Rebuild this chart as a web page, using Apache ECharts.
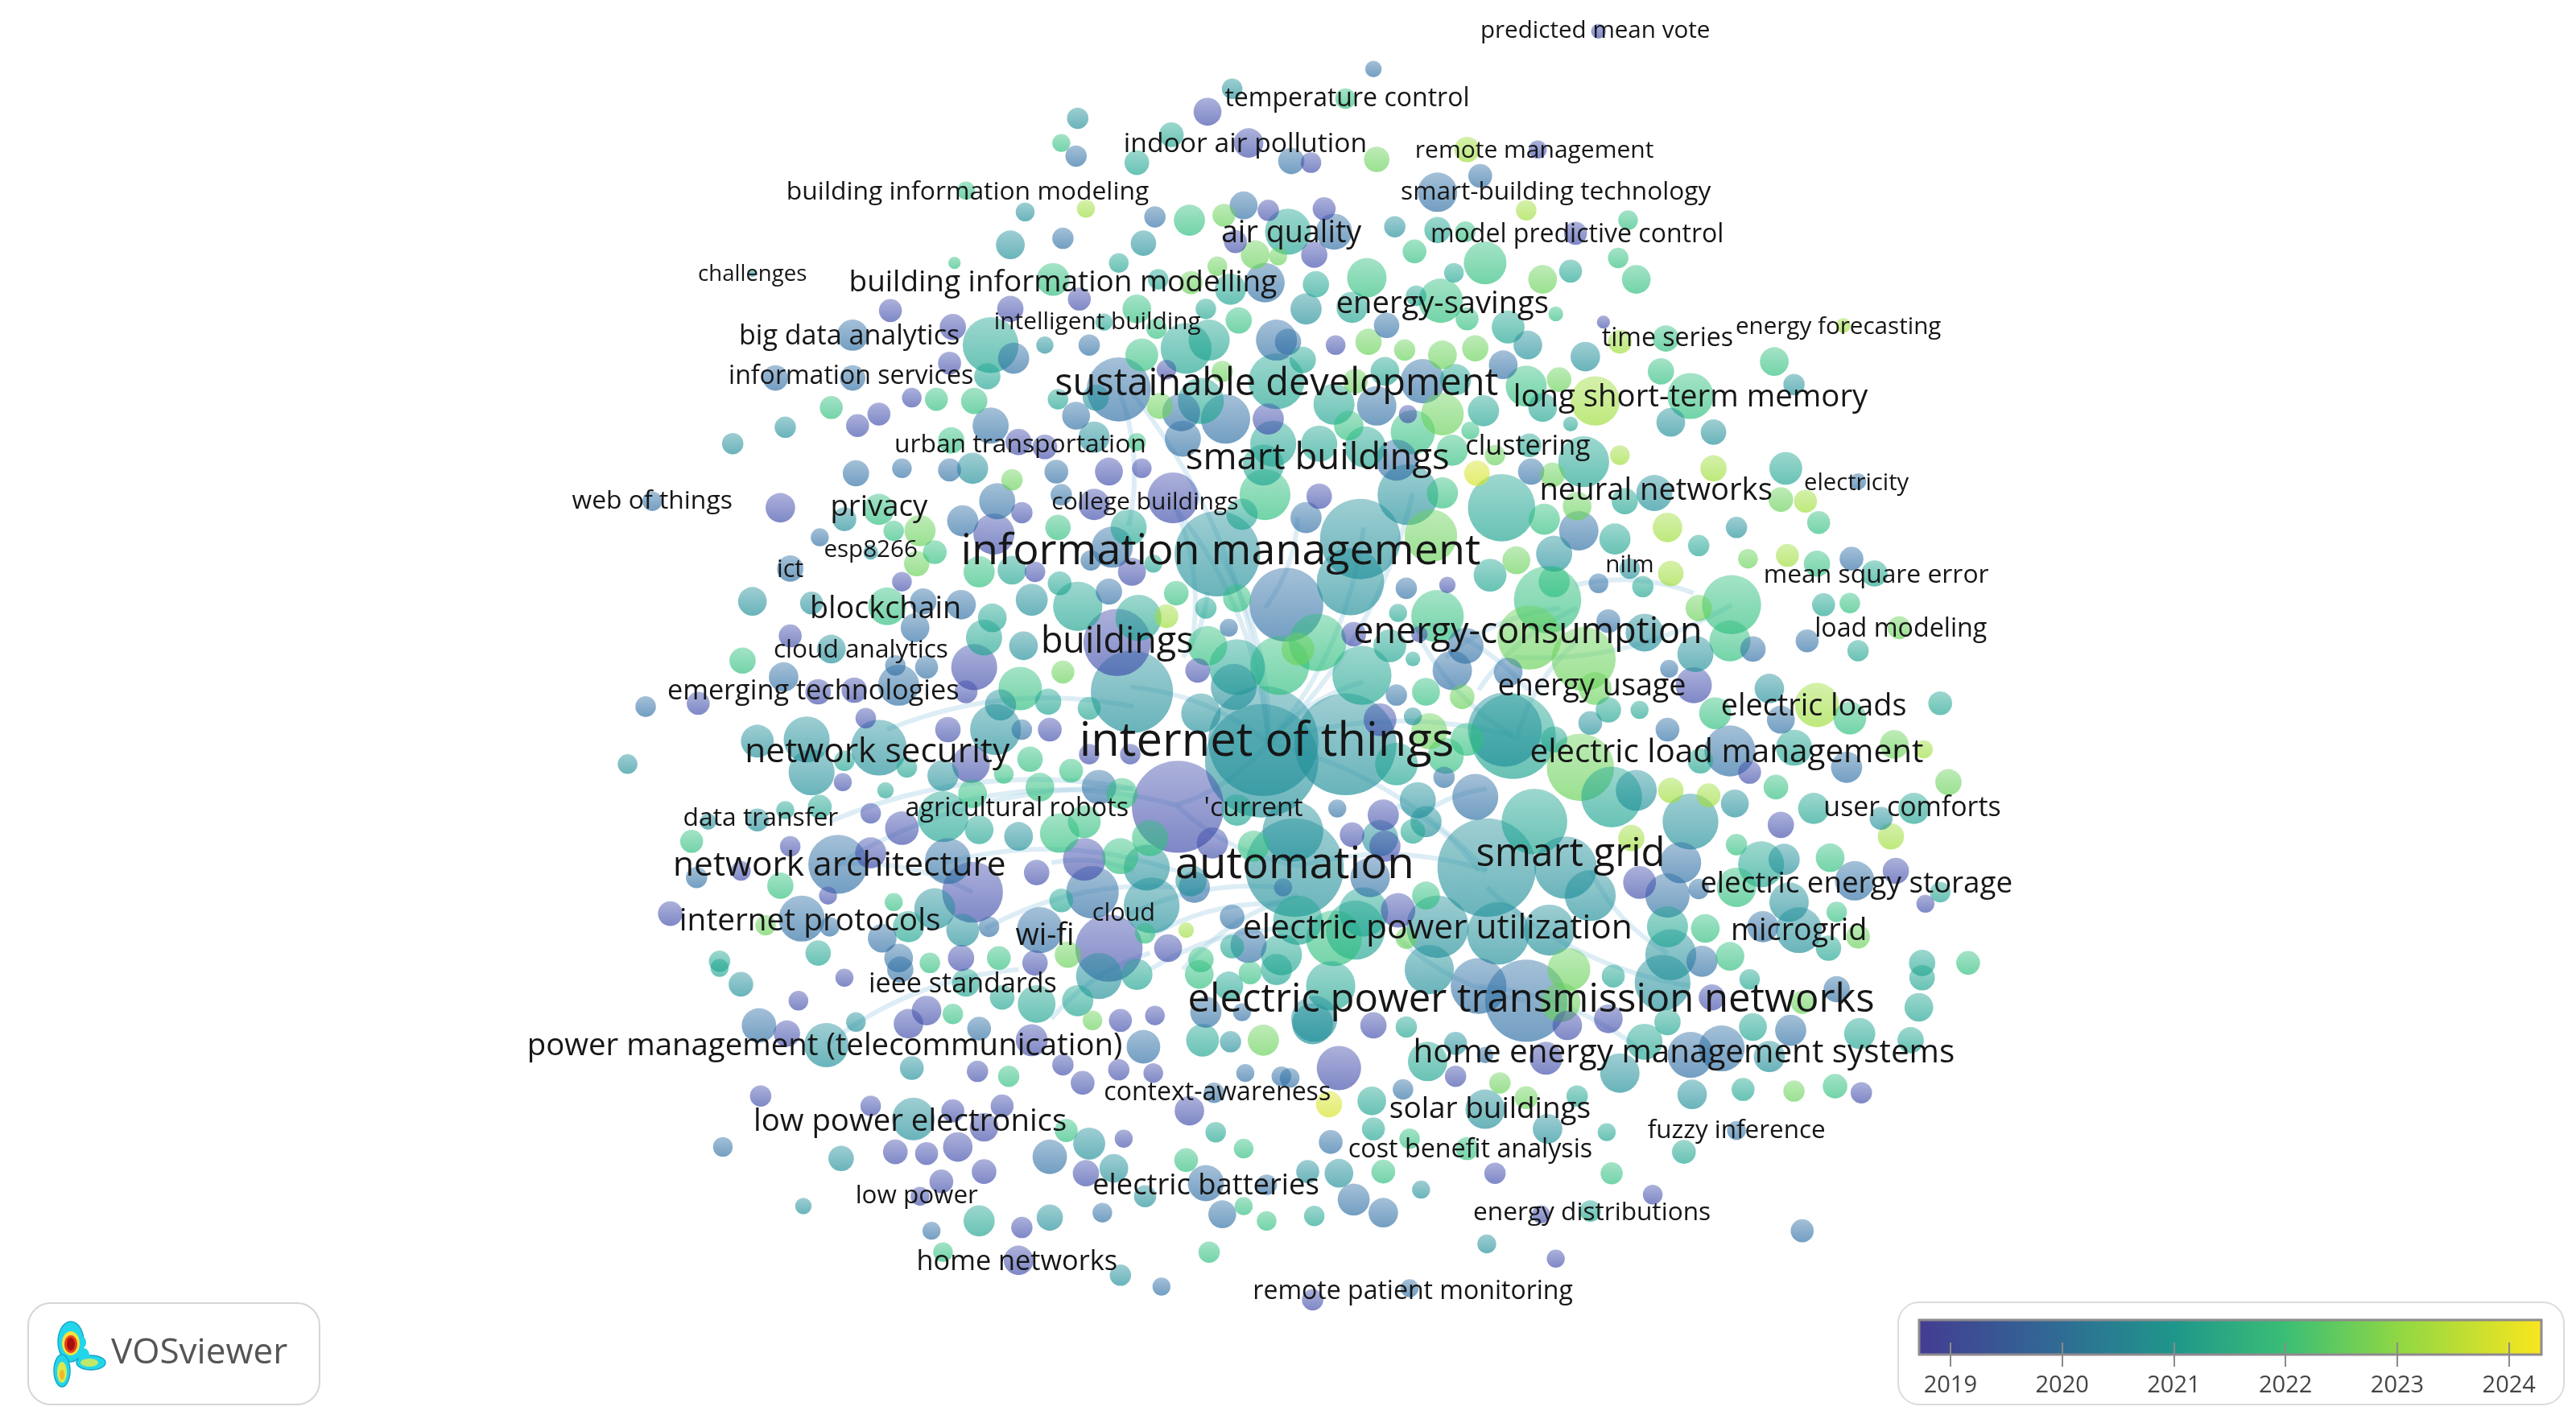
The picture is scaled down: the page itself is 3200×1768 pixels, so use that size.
<!DOCTYPE html>
<html>
<head>
<meta charset="utf-8">
<title>VOSviewer overlay map</title>
<style>html,body{margin:0;padding:0;background:#fff}#main{width:3200px;height:1768px}</style>
<script src="https://cdn.jsdelivr.net/npm/echarts@6/dist/echarts.min.js"></script>
</head>
<body>
<div id="main"></div>
<script>
// map units, each row is [x, y, weight], grouped by average publication year
var nodes2019 = [[735,68,17],[760,87,18],[772,128,13],[752,147,14],[657,182,14],[615,188,16],[542,189,14],[580,199,16],[578,221,14],[710,225,12],[555,242,12],[535,252,14],[522,259,14],[620,269,16],[636,272,15],[675,287,17],[695,285,12],[772,255,19],[973,19,9],[798,99,12.5],[936,91,11],[806,127,14],[959,142,14],[800,155,16],[813,210,12],[976,196,8],[857,252,11],
[475,309,18],[622,312,13],[605,325,25],[666,307,19],[714,303,31],[630,348,12.5],[689,348,17],[549,354,12],[481,387,14],[593,406,28],[498,421,15.5],[520,420,15.5],[729,408,15],[588,421,14],[425,428,14],[527,437,12.5],[577,444,15.5],[639,444,14.5],[591,465,23],[663,459,12.5],[688,459,12.5],[513,476,11],[717,491,56],[549,504,20.5],[530,495,12.5],[481,515,12.5],[451,530,12],[530,519,19],[592,543,37],[660,523,26],[631,531,15.5],[738,513,19],[504,545,11],[408,556,15],[675,577,41],[711,577,17],[585,583,16],[630,586,15.5],[680,391,41],[840,438,20],
[803,302,15.5],[881,356,10],[824,386,15],[864,386,10],[1031,417,22],[1065,470,14],[1084,502,16],[1154,530,16],[1172,550,11],[998,537,20],[851,554,21],[843,515,19],[823,508,15],[842,496,19],
[514,595,11],[486,609,12],[479,629,16],[564,615,18],[553,623,18],[628,633,19.5],[682,621,14],[703,618,12],[595,652,13],[659,659,14.5],[702,653,12],[647,648,13],[681,651,13],[463,667,13],[530,673,12.5],[580,676,14],[610,673,14],[599,686,17.5],[684,693,11],[724,676,18],[545,701,15],[564,702,14],[583,698,18],[599,713,15],[573,719,14.5],[661,714,16],[622,747,13],[620,767,18],[560,728,11.5],
[954,624,18],[979,620,17.5],[1042,607,16],[941,644,20],[836,624,16],[886,655,13],[815,650,27],[1133,665,13],[910,714,13],[1006,727,12],[947,766,11],[799,791,13],[938,739,11]];

var nodes2020 = [[655,95,13],[647,145,13],[703,132,13],[757,125,17],[812,141,22],[770,172,24],[519,204,19],[617,218,19],[663,210,13],[777,207,25],[472,230,15.5],[519,230,15.5],[681,237,39],[603,259,22],[719,251,23],[746,255,30],[720,267,22],[655,253,17],[521,288,16],[549,285,12],[578,286,14],[643,287,14.5],[786,98,16],[836,42,10],[901,107,14.5],[875,117,24],[844,198,15.5],[784,208,16],[915,222,17.5],[866,232,27],[838,247,24],[850,280,25],[932,287,16],[1131,293,10],
[397,305,12],[499,327,11],[481,346,16],[586,317,19],[607,305,22],[646,301,13],[677,333,25],[664,341,12.5],[675,360,16],[562,366,16],[585,368,18],[557,382,17.5],[545,405,12.5],[564,406,14],[477,412,18],[547,417,25],[393,430,12.5],[622,444,12.5],[669,479,21],[510,526,36],[424,534,13],[577,524,28],[665,543,32],[834,534,24],[781,540,11],[727,540,19],[488,559,28],[505,564,12],[537,571,17.5],[602,564,12.5],[633,566,28],[750,558,15],[547,583,17.5],[783,368,45],[748,382,11],
[795,315,19],[961,323,24],[856,358,13],[1127,340,14.5],[973,355,12],[979,378,14.5],[1100,390,14],[1067,395,15.5],[892,393,22],[884,408,24],[918,409,17.5],[1016,407,11],[850,423,13],[1084,438,17],[1015,444,14.5],[1053,457,31],[1124,467,19],[814,492,11],[879,473,13],[898,485,28],[1015,545,27],[1023,525,25],[1034,541,12.5],[1073,564,19],[1036,585,19],[1129,536,24],
[548,590,16],[462,624,21],[596,626,14.5],[734,616,19],[756,616,11],[696,637,20.5],[758,653,11],[780,655,12],[739,665,12.5],[440,698,12],[639,704,21],[734,720,22],[771,721,12.5],[671,738,12],[744,739,17],[567,749,11],[707,783,11],
[1118,602,16],[929,609,50],[1090,627,19],[1029,642,28],[1048,638,28],[904,642,10],[785,656,12],[854,663,12.5],[1057,688,11.5],[810,695,14.5],[824,730,19.5],[842,738,18],[1097,749,14],[858,784,11],[760,575,22],[900,600,34]];

var nodes2020b = [[750,54,12.5],[656,72,13],[624,129,11.5],[615,149,17.5],[696,148,15.5],[458,166,5],[636,210,10.5],[667,242,16],[666,266,19],[592,285,19],[478,260,13],[446,270,13],[849,138,13],[795,188,19],[930,210,17.5],[965,217,18],[1092,234,13],[1017,257,17.5],[1043,263,15.5],
[514,316,14.5],[530,336,9],[628,365,19.5],[458,366,17.5],[494,367,14],[623,393,17.5],[506,395,17.5],[689,421,50],[609,429,19],[731,434,24],[751,418,28],[606,444,31],[461,451,20],[491,450,28],[494,470,28],[535,455,34],[574,472,19],[382,465,12],[461,499,14],[431,500,10],[620,509,17.5],[569,553,25],[586,566,20],[698,528,28],[701,551,34],[725,536,19],[741,337,52],
[857,301,37],[828,328,49],[1007,300,22],[1057,321,13],[946,337,22],[992,346,12.5],[822,354,41],[1001,385,23],[1032,398,22],[968,440,14.5],[1077,419,18],[868,500,19],[863,487,22],[1056,489,17],[1145,498,14],[1029,500,34],[996,481,25],[1086,523,19],[1089,549,24],[1095,566,28],[905,528,60],[953,528,38],[968,545,31],[875,564,38],[912,568,38],[943,566,31],[1017,581,31],[916,444,45],[769,451,67],[819,453,62],[768,463,69],[788,528,60],[787,506,37],
[451,599,15],[669,594,28],[503,636,27],[521,622,12],[555,650,14.5],[749,634,13],[556,681,26],[663,696,19.5],[512,705,15.5],[678,711,17.5],[697,728,13.5],[489,734,10],[639,741,16],[682,776,13],
[1012,598,34],[799,623,25],[1077,643,19],[986,653,24],[886,635,14],[1030,666,18],[904,675,24],[942,687,18],[796,713,14],[815,714,17.5],[865,724,11],[905,757,11.5],[840,510,22],[800,620,28],[870,590,30],[860,436,11]];

var nodes2021 = [[692,99,15],[713,82,15],[784,141,28],[705,170,12.5],[681,160,12],[749,176,19],[734,188,12.5],[603,210,34],[672,196,10.5],[722,212,31],[736,207,25],[601,229,16],[777,232,34],[644,243,12.5],[731,244,28],[775,270,28],[769,283,25],
[875,140,16],[956,165,14],[801,173,16],[885,166,12],[823,187,19],[862,180,12.5],[918,199,20],[793,219,16],[843,226,17.5],[886,231,19],[939,248,17.5],[903,250,19],[812,246,25],[831,272,25],[803,270,22],[931,271,14.5],[964,281,31],[1087,285,20],[956,258,9],
[756,313,19],[687,321,22],[616,347,17.5],[702,343,11],[645,355,14.5],[656,369,30],[693,376,28],[734,370,13],[604,376,17.5],[599,388,22],[753,406,34],[638,427,16],[663,431,14],[552,467,12.5],[514,463,12.5],[539,481,10],[499,491,14.5],[478,493,11],[574,497,31],[596,505,17.5],[646,548,14.5],[553,564,19],[438,585,13],[498,580,15.5],[750,576,14.5],[780,581,25],[753,493,19],
[914,309,41],[983,328,19],[989,305,16],[1034,332,13],[907,350,20],[1000,357,13],[1141,349,16],[1110,368,14],[1131,396,13],[846,393,20],[860,401,9],[851,373,11],[979,432,15.5],[998,432,11],[1181,428,14.5],[921,448,52],[946,450,16],[1092,455,22],[1035,463,15.5],[1104,492,19],[1165,492,19],[981,485,37],[860,506,15],[934,500,40],[1072,526,28],[1181,543,12.5],[1015,564,25],[1113,577,15.5],[1170,586,16],
[438,589,11],[588,598,17],[610,607,15],[631,611,23],[692,593,19],[748,600,17.5],[777,590,19],[732,633,20],[740,689,12.5],[596,743,19],[656,609,19],
[1170,595,15.5],[1168,613,17.5],[1065,596,12.5],[982,594,14],[1015,622,16],[1067,625,17],[1132,629,19],[1163,633,16],[1001,634,22],[856,625,13],[869,646,24],[835,670,17.5],[960,667,13],[1061,663,14],[836,687,14],[978,689,11],[1025,701,14.5],[968,737,13],[800,740,12.5],[829,411,36],[850,465,26],[790,560,30],[810,600,30],[825,566,36],[830,555,30]];

var nodes2022 = [[646,87,11],[588,116,11],[724,134,19],[581,160,7.5],[692,188,17.5],[754,195,16],[641,170,20],[704,200,12.5],[695,216,20],[570,243,14],[593,244,16],[506,248,14],[579,268,16],[692,269,11],[819,60,12.5],[991,134,12],[904,160,26],[985,157,12.5],[832,169,24],[877,183,27],[893,194,14],[947,191,9],[821,259,18],[860,263,27],[895,262,11],[884,274,19],[1014,206,16],[1080,220,17.5],[1011,226,16],[1029,241,28],[929,235,25],[996,170,17.5],[861,153,14.5],[892,141,12.5],
[535,310,19],[569,336,14.5],[596,348,19],[644,321,15.5],[770,301,31],[544,323,12.5],[540,369,23],[716,361,15],[735,393,24],[452,402,16],[621,419,26.5],[627,462,15.5],[652,469,14.5],[611,471,12],[592,483,17.5],[633,479,17.5],[683,483,19],[645,507,24],[421,512,14],[475,539,16],[544,549,11],[682,521,22],[763,515,19],[697,568,12.5],[566,586,12.5],[608,583,14.5],[731,584,15.5],[700,510,22],[660,500,20],[779,405,36],[802,391,35],[753,364,17],
[878,300,19],[940,316,19],[946,354,19],[942,365,41],[1054,368,36],[1053,390,25],[875,375,32],[1106,343,16],[1126,367,12.5],[1107,318,14],[868,421,17],[893,450,20],[1126,437,20],[1044,434,19.5],[1081,479,15],[1114,522,17.5],[1057,540,24],[1118,555,12.5],[1038,565,17.5],[1053,582,17.5],[812,571,34],[868,545,17],[1198,586,14.5],[1057,514,13],
[580,617,12.5],[614,655,13],[649,688,14],[722,706,14.5],[757,699,12],[757,734,11],[771,743,12],[574,762,12],[736,762,13],[730,593,17.5],[761,592,14],
[1117,661,15],[858,693,12.5],[893,699,14],[842,713,14.5],[981,714,13.5],[880,460,22]];

var nodes2023 = [[745,131,14],[764,155,17.5],[778,156,11],[741,162,12],[725,172,14],[706,247,16],[744,226,13],[838,97,15.5],[939,170,17.5],[833,208,16],[855,213,13],[878,216,17.5],[898,212,16],[825,232,15],[949,231,15],[878,252,26],[910,277,12.5],[945,289,15],[616,292,13],
[560,323,19],[558,343,15.5],[647,409,14],[871,326,32],[960,308,17.5],[1084,304,15],[1064,340,12],[923,341,17],[1156,382,14],[1034,370,16],[931,388,39],[964,401,39],[971,419,20],[790,395,20],[890,424,15],[1153,453,17.5],[962,467,41],[1186,476,16],[1131,570,14.5],[856,571,13],[650,581,16],
[665,621,12],[769,633,19],[913,659,13],[929,668,14],[1092,664,13],[1097,610,14],[870,445,22],[955,590,26],[950,610,24],[466,563,12.5]];

var nodes2023b = [[661,127,11],[893,91,15.5],[929,128,12.5],[971,244,30],[986,208,14.5],[1122,198,9],[1043,285,16],[986,277,12],[1015,321,18],[1099,305,14],[1088,338,14],[1017,349,15.5],[710,375,14.5],[1106,429,27],[1171,456,11],[1017,481,15.5],[1040,484,14.5],[1151,509,16],[993,510,16],[722,566,9.5]];

var nodes2024 = [[899,288,15.5],[809,672,16]];

var cohorts = [nodes2019, nodes2020, nodes2020b, nodes2021, nodes2022, nodes2023, nodes2023b, nodes2024];
var cohortYears = [2019.15, 2020.0, 2020.7, 2021.2, 2021.9, 2022.6, 2023.2, 2023.9];

var labelNames = ['predicted mean vote','temperature control','indoor air pollution','remote management','smart-building technology','building information modeling','air quality','model predictive control','challenges','building information modelling','energy-savings','intelligent building','energy forecasting','time series','big data analytics','information services','sustainable development','long short-term memory','urban transportation','clustering','smart buildings','web of things','privacy','neural networks','electricity','college buildings','esp8266','information management','ict','nilm','mean square error','blockchain','load modeling','cloud analytics','buildings','energy-consumption','energy usage','emerging technologies','electric loads','network security','internet of things','electric load management','data transfer','agricultural robots',"'current",'user comforts','smart grid','automation','network architecture','electric energy storage','cloud','internet protocols','wi-fi','electric power utilization','microgrid','ieee standards','electric power transmission networks','power management (telecommunication)','home energy management systems','context-awareness','solar buildings','low power electronics','cost benefit analysis','fuzzy inference','electric batteries','low power','energy distributions','home networks','remote patient monitoring'];
var labelX = [971,820,758,934,947,589,786,960,458,647,878,668,1119,1015,517,518,777,1029,621,930,802,397,535,1008,1130,697,530,743,481,992,1142,539,1157,524,680,930,969,495,1104,534,771,1051,463,619,763,1164,956,788,511,1130,684,493,636,875,1095,586,932,502,1025,741,907,554,895,1057,734,558,969,619,860];
var labelY = [19,60,88,92,117,117,142,143,167,172,185,196,199,206,205,229,234,242,271,272,279,305,309,299,294,306,335,336,347,344,350,371,383,396,391,385,418,421,430,458,452,458,498,492,492,492,520,527,527,538,556,561,570,565,567,599,609,637,641,665,675,683,700,688,722,728,738,768,786];
var labelWeight = [14.5,15.7,16.5,14.7,15.5,15.6,18.5,15.7,13.5,18.1,18.7,14.6,14.5,15.7,16.7,15.7,23,18.8,15.6,16.7,22.3,15.6,17.9,18.7,14.3,14.7,14.5,26.4,15,14.5,15.6,18.5,15.8,15.5,22,22,18.5,16.8,18.5,20.8,28.4,19.8,15.6,15.8,16.5,16.6,24,26.8,20.8,18,15,19,18.5,20.8,18.5,16.7,24,18.8,19.8,15.7,18.1,18.8,15.8,15.4,17.8,15.4,15.5,16.8,15.7];

var linkFrom = [[503,636],[540,444],[505,500],[560,495],[575,525],[600,565],[680,560],[700,590],[860,300],[690,240],[716,310],[1054,368],[921,448],[1029,600],[900,600],[929,609],[772,452],[772,452],[772,452],[772,452],[790,527],[790,527],[923,450],[1015,580],[959,356],[681,237],[640,620],[830,321],[688,418],[741,335],[510,526],[510,526],[870,380],[880,400],[900,420],[860,500],[850,490],[735,360],[716,310],[790,315],[640,525],[720,590],[700,570]];
var linkTo = [[620,590],[690,430],[690,480],[716,490],[716,530],[716,540],[780,540],[790,565],[772,452],[772,452],[772,452],[921,400],[860,380],[905,540],[1000,640],[850,570],[921,448],[905,530],[716,490],[830,415],[905,530],[716,490],[960,390],[968,530],[1031,361],[687,320],[700,580],[772,452],[772,452],[772,452],[592,543],[690,480],[930,420],[950,370],[960,370],[905,480],[900,530],[720,400],[725,395],[770,370],[690,530],[790,545],[780,550]];

var legendMin = 2018.72;
var legendMax = 2024.29;
var legendYears = [2019, 2020, 2021, 2022, 2023, 2024];
var legendStops = [[2018.72,[68,60,146]],[2020,[47,108,148]],[2021,[31,150,139]],[2022,[59,190,117]],[2023,[143,215,68]],[2024.29,[250,230,30]]];
// bubbles sit on white with alpha, so they need a more vivid ramp than the legend
var nodeStops = [[2018.72,[75,62,175]],[2020,[48,112,165]],[2021,[28,158,150]],[2022,[50,195,125]],[2023,[143,220,68]],[2024.29,[245,232,30]]];

var SCALE = 3200 / 1568;

// year -> rgb from a ramp
function yearColor(y, stops) {
    for (var i = 1; i < stops.length; i++) {
        if (y <= stops[i][0]) {
            var a = stops[i - 1], b = stops[i];
            var t = (y - a[0]) / (b[0] - a[0]);
            return [0, 1, 2].map(function (k) {
                return Math.round(a[1][k] + (b[1][k] - a[1][k]) * t);
            });
        }
    }
    return stops[stops.length - 1][1];
}

function rgba(c, a) {
    return 'rgba(' + c[0] + ',' + c[1] + ',' + c[2] + ',' + a + ')';
}

var nodeData = [];
cohorts.forEach(function (list, i) {
    list.forEach(function (n) {
        nodeData.push([n[0], n[1], n[2], cohortYears[i]]);
    });
});
// big bubbles first so the small ones stay visible
nodeData.sort(function (a, b) { return b[2] - a[2]; });

var labelData = labelNames.map(function (name, i) {
    return {
        name: name,
        value: [labelX[i], labelY[i]],
        label: {fontSize: labelWeight[i] * SCALE}
    };
});

var linkData = linkFrom.map(function (p, i) {
    return {coords: [p, linkTo[i]]};
});

var barStops = legendStops.map(function (s) {
    return {offset: (s[0] - legendMin) / (legendMax - legendMin), color: rgba(s[1], 1)};
});

var myChart = echarts.init(document.getElementById('main'), null, {renderer: 'canvas'});
myChart.setOption({
    animation: false,
    backgroundColor: '#fff',
    grid: [
        {left: 0, top: 0, width: 3200, height: 1768},
        {left: 2384, top: 1640, width: 773, height: 58}
    ],
    xAxis: [
        {gridIndex: 0, type: 'value', min: 0, max: 1568, show: false},
        {
            gridIndex: 1, type: 'value', min: legendMin, max: legendMax, z: 10,
            splitLine: {show: false},
            axisLine: {show: false},
            axisTick: {show: true, inside: true, length: 30, customValues: legendYears, lineStyle: {color: '#8a8a8a', width: 2}},
            axisLabel: {
                customValues: legendYears, margin: 9,
                fontFamily: 'Open Sans', fontSize: 29, color: '#444',
                formatter: function (v) { return String(v); }
            }
        }
    ],
    yAxis: [
        {gridIndex: 0, type: 'value', min: 0, max: 866, inverse: true, show: false},
        {gridIndex: 1, type: 'value', min: 0, max: 1, show: false}
    ],
    series: [
        {
            type: 'lines',
            coordinateSystem: 'cartesian2d',
            xAxisIndex: 0, yAxisIndex: 0,
            silent: true, z: 1,
            lineStyle: {color: 'rgba(160,205,228,0.7)', width: 6, curveness: 0.15},
            data: linkData
        },
        {
            type: 'scatter',
            xAxisIndex: 0, yAxisIndex: 0,
            silent: true, z: 2, progressive: 0,
            symbol: 'circle',
            symbolSize: function (v) { return v[2] * SCALE; },
            itemStyle: {
                opacity: 1,
                color: function (p) {
                    var c = yearColor(p.value[3], nodeStops);
                    return new echarts.graphic.LinearGradient(0, 0, 0, 1, [
                        {offset: 0, color: rgba(c, 0.44)},
                        {offset: 1, color: rgba(c, 0.68)}
                    ]);
                }
            },
            data: nodeData
        },
        {
            type: 'scatter',
            xAxisIndex: 0, yAxisIndex: 0,
            silent: true, z: 3, progressive: 0,
            symbolSize: 1,
            itemStyle: {color: 'rgba(0,0,0,0)'},
            label: {
                show: true, position: 'inside', opacity: 1,
                fontFamily: 'Open Sans', color: '#161616',
                formatter: '{b}'
            },
            data: labelData
        }
    ],
    graphic: [
        // year legend
        {type: 'rect', z: 0, shape: {x: 2358, y: 1618, width: 827, height: 127, r: 26},
            style: {fill: '#fff', stroke: '#dcdcdc', lineWidth: 2}},
        {type: 'rect', z: 5, shape: {x: 2384, y: 1640, width: 773, height: 43},
            style: {
                fill: new echarts.graphic.LinearGradient(0, 0, 1, 0, barStops),
                stroke: '#8f8a8f', lineWidth: 3
            }},
        // logo box
        {type: 'rect', z: 0, shape: {x: 35, y: 1619, width: 362, height: 126, r: 28},
            style: {fill: '#fff', stroke: '#d6d6d6', lineWidth: 2}},
        {type: 'text', z: 6, style: {x: 138, y: 1681, text: 'VOSviewer', fontFamily: 'Open Sans', fontSize: 44,
            fill: '#555', textVerticalAlign: 'middle'}},
        {type: 'group', z: 6, children: [
            {type: 'ellipse', shape: {cx: 88, cy: 1667, rx: 16, ry: 25}, style: {fill: '#22d6ea', stroke: '#1aa6c8', lineWidth: 1.5}},
            {type: 'ellipse', shape: {cx: 98, cy: 1668, rx: 9, ry: 9}, style: {fill: '#22d6ea'}},
            {type: 'ellipse', shape: {cx: 77, cy: 1703, rx: 10, ry: 20}, style: {fill: '#22d6ea', stroke: '#1aa6c8', lineWidth: 1.5}},
            {type: 'ellipse', shape: {cx: 113, cy: 1693, rx: 18, ry: 9}, style: {fill: '#22d6ea', stroke: '#1aa6c8', lineWidth: 1.5}},
            {type: 'ellipse', shape: {cx: 104, cy: 1684, rx: 7, ry: 9}, style: {fill: '#22d6ea'}},
            {type: 'ellipse', shape: {cx: 88, cy: 1669, rx: 11, ry: 15}, style: {fill: '#f7e23a'}},
            {type: 'ellipse', shape: {cx: 88, cy: 1670, rx: 8, ry: 11}, style: {fill: '#e8401c'}},
            {type: 'ellipse', shape: {cx: 88, cy: 1670, rx: 5, ry: 8}, style: {fill: '#a80f10'}},
            {type: 'ellipse', shape: {cx: 77, cy: 1705, rx: 6, ry: 13}, style: {fill: '#d8ea50'}},
            {type: 'ellipse', shape: {cx: 77, cy: 1708, rx: 3, ry: 6}, style: {fill: '#f5b52a'}},
            {type: 'ellipse', shape: {cx: 111, cy: 1693, rx: 11, ry: 5}, style: {fill: '#bfe86a'}}
        ]}
    ]
});
</script>
</body>
</html>
